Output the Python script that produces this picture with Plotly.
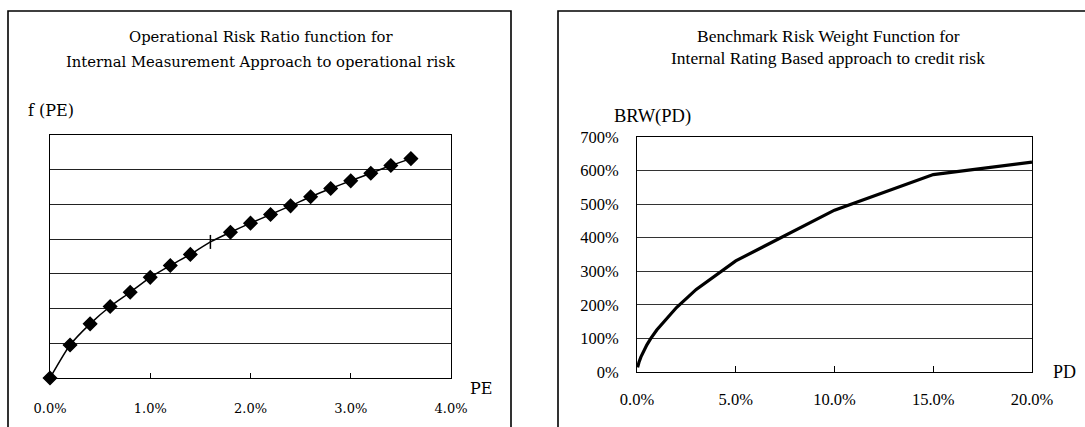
import plotly.graph_objects as go

W, H = 1085, 427

# ---- Left chart data: Operational Risk Ratio function f(PE) ----
pe_values = [0.000, 0.002, 0.004, 0.006, 0.008, 0.010, 0.012, 0.014, 0.016, 0.018,
             0.020, 0.022, 0.024, 0.026, 0.028, 0.030, 0.032, 0.034, 0.036]
f_pe_values = [0.00, 0.95, 1.56, 2.06, 2.47, 2.90, 3.24, 3.56, 3.92, 4.20,
               4.46, 4.71, 4.96, 5.22, 5.46, 5.68, 5.90, 6.12, 6.32]
left_xticks = [0.0, 0.01, 0.02, 0.03, 0.04]

# ---- Right chart data: Benchmark Risk Weight BRW(PD) ----
pd_values = [0.0003, 0.0005, 0.001, 0.002, 0.004, 0.005, 0.007, 0.01,
             0.02, 0.03, 0.05, 0.10, 0.15, 0.20]
brw_values = [0.14, 0.19, 0.29, 0.45, 0.70, 0.81, 1.00, 1.25,
              1.92, 2.46, 3.31, 4.82, 5.88, 6.25]
right_xticks = [0.0, 0.05, 0.10, 0.15, 0.20]
right_yticks = [0, 1, 2, 3, 4, 5, 6, 7]


def xp(px):
    return px / W


def yp(py):
    return 1 - py / H


LFONT = "DejaVu Serif"
RFONT = "Liberation Serif"

symbols = ["diamond"] * len(pe_values)
symbols[8] = "line-ns-open"

fig = go.Figure()
fig.add_trace(go.Scatter(
    x=pe_values, y=f_pe_values, xaxis="x", yaxis="y",
    mode="lines+markers",
    line=dict(color="black", width=1.5, shape="spline", smoothing=0.6),
    marker=dict(symbol=symbols, size=10, color="black",
                line=dict(color="black", width=1.5)),
    cliponaxis=False, showlegend=False, hoverinfo="skip",
))
fig.add_trace(go.Scatter(
    x=pd_values, y=brw_values, xaxis="x2", yaxis="y2",
    mode="lines",
    line=dict(color="black", width=3.2),
    cliponaxis=False, showlegend=False, hoverinfo="skip",
))

axis_common = dict(showline=True, linecolor="black", linewidth=1, mirror=True,
                   zeroline=False, fixedrange=True, automargin=False)

fig.update_layout(
    width=W, height=H,
    margin=dict(l=0, r=0, t=0, b=0, autoexpand=False),
    paper_bgcolor="white", plot_bgcolor="white",
    xaxis=dict(domain=[xp(50), xp(451)], anchor="y", range=[0, 0.04],
               tickvals=left_xticks, tickformat=".1%",
               ticks="inside", ticklen=5, tickcolor="black",
               showgrid=False, ticklabelstandoff=18,
               tickfont=dict(family=LFONT, size=13, color="black"),
               **axis_common),
    yaxis=dict(domain=[yp(378), yp(135)], anchor="x", range=[0, 7],
               dtick=1, showticklabels=False, ticks="",
               showgrid=True, gridcolor="#222", gridwidth=1,
               **axis_common),
    xaxis2=dict(domain=[xp(637), xp(1032)], anchor="y2", range=[0, 0.20],
                tickvals=right_xticks, tickformat=".1%",
                ticks="inside", ticklen=6, tickcolor="black",
                showgrid=False, ticklabelstandoff=12,
                tickfont=dict(family=RFONT, size=16.5, color="black"),
                **axis_common),
    yaxis2=dict(domain=[yp(372), yp(137)], anchor="x2", range=[0, 7],
                tickvals=right_yticks, ticktext=[f"{v*100}%" for v in right_yticks],
                ticks="", showgrid=True, gridcolor="#333", gridwidth=1,
                ticklabelstandoff=14,
                tickfont=dict(family=RFONT, size=16.5, color="black"),
                **axis_common),
)

# panel borders
fig.add_shape(type="rect", xref="paper", yref="paper",
              x0=xp(8), x1=xp(511), y0=yp(440), y1=yp(11),
              line=dict(color="black", width=1.6), layer="below")
fig.add_shape(type="rect", xref="paper", yref="paper",
              x0=xp(558), x1=xp(1100), y0=yp(440), y1=yp(11),
              line=dict(color="black", width=1.6), layer="below")

annos = [
    dict(text="Operational Risk Ratio function for", x=xp(261), y=yp(37),
         font=dict(family=LFONT, size=14.8)),
    dict(text="Internal Measurement Approach to operational risk", x=xp(261), y=yp(62),
         font=dict(family=LFONT, size=14.8)),
    dict(text="f (PE)", x=xp(26), y=yp(110), xanchor="left",
         font=dict(family=LFONT, size=16)),
    dict(text="PE", x=xp(468), y=yp(388), xanchor="left",
         font=dict(family=LFONT, size=16)),
    dict(text="Benchmark Risk Weight Function for", x=xp(828), y=yp(36),
         font=dict(family=RFONT, size=17.5)),
    dict(text="Internal Rating Based approach to credit risk", x=xp(828), y=yp(58),
         font=dict(family=RFONT, size=17.5)),
    dict(text="BRW(PD)", x=xp(612), y=yp(116), xanchor="left",
         font=dict(family=RFONT, size=18.5)),
    dict(text="PD", x=xp(1051), y=yp(372), xanchor="left",
         font=dict(family=RFONT, size=18)),
]
for a in annos:
    a.setdefault("xanchor", "center")
    a["font"]["color"] = "black"
    fig.add_annotation(xref="paper", yref="paper", yanchor="middle",
                       showarrow=False, **a)

fig.write_html("out.html", config={"displayModeBar": False},
               post_script="document.body.style.margin='0';")
